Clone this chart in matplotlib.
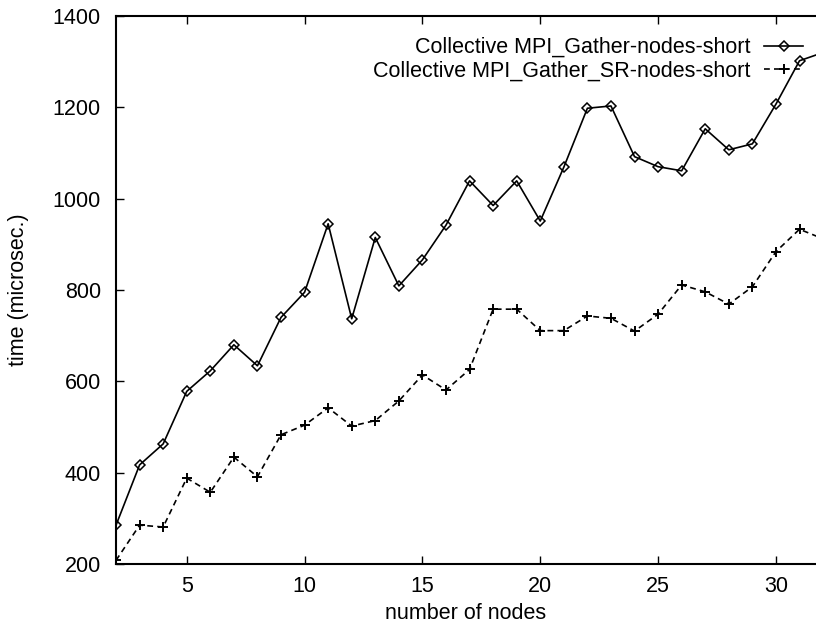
import numpy as np
import matplotlib
matplotlib.use("Agg")
import matplotlib.pyplot as plt

# ---- data ----
nodes = list(range(2, 33))
gather_short = [285, 417, 463, 578, 623, 680, 634, 740, 795, 945, 737, 915,
                809, 866, 942, 1039, 985, 1039, 951, 1069, 1198, 1203, 1092,
                1070, 1061, 1153, 1107, 1120, 1207, 1302, 1320]
gather_sr_short = [208, 285, 281, 388, 357, 434, 391, 483, 504, 542, 502, 514,
                   557, 614, 581, 626, 758, 758, 711, 711, 743, 738, 710,
                   747, 811, 796, 769, 807, 884, 933, 912]
labels = ["Collective MPI_Gather-nodes-short",
          "Collective MPI_Gather_SR-nodes-short"]
xticks = [5, 10, 15, 20, 25, 30]
yticks = [200, 400, 600, 800, 1000, 1200, 1400]

plt.rcParams["font.family"] = ["Liberation Sans", "DejaVu Sans"]
FS = 15.5

fig = plt.figure(figsize=(8.16, 6.30), dpi=100)
ax = fig.add_axes([0.1422, 0.1048, 0.8578, 0.8698])

ax.plot(nodes, gather_short, color="black", linewidth=1.2,
        marker="D", markersize=4.8, markerfacecolor="none",
        markeredgewidth=1.1, label=labels[0])
ax.plot(nodes, gather_sr_short, color="black", linewidth=1.2,
        linestyle=(0, (3.5, 2.5)), marker="+", markersize=6.5,
        markeredgewidth=1.4, label=labels[1])

ax.set_xlim(2, 31.7)
ax.set_ylim(200, 1400)
ax.set_xticks(xticks)
ax.set_yticks(yticks)
ax.tick_params(direction="in", length=6, width=1, labelsize=FS,
               top=True, right=False)
ax.tick_params(axis="y", pad=11)
ax.tick_params(axis="x", pad=9)
ax.spines["right"].set_visible(False)
for s in ("left", "top", "bottom"):
    ax.spines[s].set_linewidth(1.5)

ax.set_xlabel("number of nodes", fontsize=FS, labelpad=4)
ax.set_ylabel("time (microsec.)", fontsize=FS, labelpad=17)

ax.legend(loc="upper right", bbox_to_anchor=(1.0, 0.985), frameon=False,
          markerfirst=False, fontsize=FS, handlelength=1.8,
          handletextpad=0.65, labelspacing=0.1, borderaxespad=0.2)

fig.savefig("out.png", dpi=100)
